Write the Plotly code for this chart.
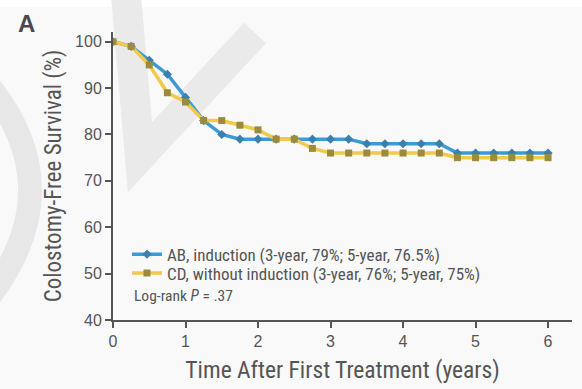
import plotly.graph_objects as go

# ---- data ----
years = [0, 0.25, 0.5, 0.75, 1, 1.25, 1.5, 1.75, 2, 2.25, 2.5, 2.75, 3,
         3.25, 3.5, 3.75, 4, 4.25, 4.5, 4.75, 5, 5.25, 5.5, 5.75, 6]
ab_induction = [100, 99, 96, 93, 88, 83, 80, 79, 79, 79, 79, 79, 79,
                79, 78, 78, 78, 78, 78, 76, 76, 76, 76, 76, 76]
cd_without = [100, 99, 95, 89, 87, 83, 83, 82, 81, 79, 79, 77, 76,
              76, 76, 76, 76, 76, 76, 75, 75, 75, 75, 75, 75]
ab_name = "AB, induction (3-year, 79%; 5-year, 76.5%)"
cd_name = "CD, without induction (3-year, 76%; 5-year, 75%)"
y_ticks = [40, 50, 60, 70, 80, 90, 100]
x_ticks = [0, 1, 2, 3, 4, 5, 6]

W, H = 582, 389
L, R, T, B = 113, 10, 32, 67
PW, PH = W - L - R, H - T - B

NARROW = "Liberation Sans Narrow, Arial Narrow, Roboto Condensed, sans-serif"
SANS = "Liberation Sans, Arial, sans-serif"
TXT = "#555555"


def px(x, y):
    return f"{(x - L) / PW:.4f},{(H - B - y) / PH:.4f}"


fig = go.Figure()
fig.add_trace(go.Scatter(
    x=years, y=ab_induction, name=ab_name, mode="lines+markers",
    line=dict(color="#3d9bd3", width=3.5),
    marker=dict(symbol="diamond", size=7, color="#3c7fae"),
    legend="legend",
))
fig.add_trace(go.Scatter(
    x=years, y=cd_without, name=cd_name, mode="lines+markers",
    line=dict(color="#f2c94a", width=3.5),
    marker=dict(symbol="square", size=7, color="#9c8b3d"),
    legend="legend2",
))

shapes = [
    dict(type="rect", xref="paper", yref="paper", layer="below",
         x0=(0 - L) / PW, x1=(W - L) / PW, y0=(H - B - 7) / PH, y1=(H - B + 10) / PH,
         fillcolor="white", line=dict(width=0)),
    dict(type="path", xref="paper", yref="paper", layer="below",
         path=f"M {px(-12, 85)} Q {px(72, 190)} {px(-12, 300)}",
         line=dict(color="#e7e7e7", width=24)),
    dict(type="path", xref="paper", yref="paper", layer="below",
         path=f"M {px(126, -5)} L {px(140, 158)} L {px(255, 33)}",
         line=dict(color="#eaeaea", width=30)),
]

leg_common = dict(xanchor="left", yanchor="top", bgcolor="rgba(0,0,0,0)",
                  font=dict(family=NARROW, size=17, color=TXT), itemwidth=30)

fig.update_layout(
    width=W, height=H,
    margin=dict(l=L, r=R, t=T, b=B),
    paper_bgcolor="#f9f9f9", plot_bgcolor="rgba(0,0,0,0)",
    showlegend=True,
    legend=dict(x=(127 - L) / PW, y=(H - B - 238) / PH, **leg_common),
    legend2=dict(x=(127 - L) / PW, y=(H - B - 257) / PH, **leg_common),
    shapes=shapes,
    annotations=[
        dict(text="<b>A</b>", xref="paper", yref="paper", x=(16 - L) / PW, y=(H - B - 8) / PH,
             xanchor="left", yanchor="top", showarrow=False,
             font=dict(family=SANS, size=24, color="#4a4a4a")),
        dict(text="Log-rank <i>P</i> = .37", xref="paper", yref="paper",
             x=(132 - L) / PW, y=(H - B - 298) / PH, xanchor="left", yanchor="middle",
             showarrow=False, font=dict(family=NARROW, size=15.5, color=TXT)),
    ],
)
fig.update_xaxes(
    range=[0, 6.33], tickvals=x_ticks, ticks="outside", ticklen=6, tickwidth=1.5,
    tickcolor="#555", showline=True, linecolor="#555", linewidth=2, showgrid=False,
    zeroline=False, tickfont=dict(family=SANS, size=16, color=TXT),
    title=dict(text="Time After First Treatment (years)", standoff=12,
               font=dict(family=NARROW, size=23.5, color=TXT)),
)
fig.update_yaxes(
    range=[40, 102.1], tickvals=y_ticks, ticks="outside", ticklen=6, tickwidth=1.5,
    tickcolor="#555", showline=True, linecolor="#555", linewidth=2, showgrid=False,
    zeroline=False, tickfont=dict(family=SANS, size=16, color=TXT),
    title=dict(text="Colostomy-Free Survival (%)", standoff=7,
               font=dict(family=NARROW, size=23, color=TXT)),
)

fig.write_html("out.html")
